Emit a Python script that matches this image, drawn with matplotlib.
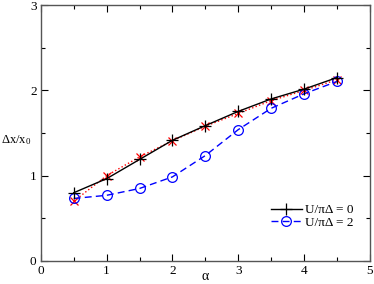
import matplotlib
matplotlib.use("Agg")
import matplotlib.pyplot as plt
from matplotlib.ticker import MultipleLocator

plt.rcParams['font.family'] = ['Liberation Serif', 'DejaVu Serif']
plt.rcParams['mathtext.fontset'] = 'custom'
plt.rcParams['mathtext.rm'] = 'Liberation Serif'
plt.rcParams['mathtext.it'] = 'Liberation Serif'

alpha = [0.5, 1.0, 1.5, 2.0, 2.5, 3.0, 3.5, 4.0, 4.5]
u0 = [0.80, 0.965, 1.19, 1.415, 1.587, 1.754, 1.90, 2.015, 2.15]
u0_red = [0.70, 1.00, 1.22, 1.41, 1.58, 1.73, 1.88, 2.00, 2.125]
u2 = [0.733, 0.77, 0.85, 0.986, 1.236, 1.54, 1.79, 1.96, 2.105]

fig = plt.figure(figsize=(3.74, 2.84), dpi=100)
ax = fig.add_axes([0.109, 0.081, 0.880, 0.901])

ax.plot(alpha, u0, color='black', lw=1.0, marker='+', ms=8, mew=0.9,
        label='U/\u03c0\u0394 = 0', zorder=3)
ax.plot(alpha, u0_red, color='red', lw=1.0, ls=':', marker='x', ms=6, mew=0.9,
        zorder=2)
ax.plot(alpha, u2, color='blue', lw=1.0, ls=(0, (5, 3)), marker='o', ms=7,
        mfc='none', mew=0.9, label='U/\u03c0\u0394 = 2', zorder=2)

ax.set_xlim(0, 5)
ax.set_ylim(0, 3)
ax.xaxis.set_major_locator(MultipleLocator(1))
ax.xaxis.set_minor_locator(MultipleLocator(0.5))
ax.yaxis.set_major_locator(MultipleLocator(1))
ax.yaxis.set_minor_locator(MultipleLocator(0.5))
ax.tick_params(which='both', direction='in', top=True, right=True,
               labelsize=9.5, colors='black', pad=3)
ax.tick_params(which='major', length=5, width=0.8)
ax.tick_params(which='minor', length=3, width=0.8)
for s in ax.spines.values():
    s.set_color('#555555')
    s.set_linewidth(1.0)

fig.text(0.548, 0.005, '\u03b1', fontsize=10, ha='center', va='bottom')
fig.text(0.003, 0.505, r'$\Delta$x/x$_0$', fontsize=9, ha='left', va='center')

leg = ax.legend(loc='lower right', bbox_to_anchor=(0.978, 0.09), frameon=False,
                fontsize=9.5, handlelength=2.3, handletextpad=0.25,
                labelspacing=0.0, borderpad=0.2)

fig.savefig('out.png', dpi=100)
